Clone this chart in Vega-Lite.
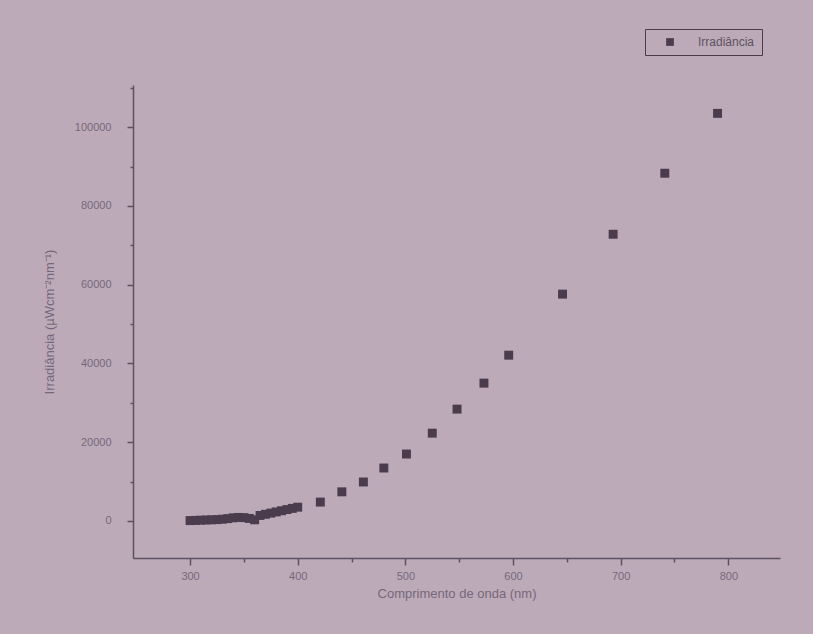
{
  "$schema": "https://vega.github.io/schema/vega-lite/v6.json",
  "autosize": "none",
  "width": 647,
  "height": 473,
  "padding": {"left": 133, "top": 85, "right": 33, "bottom": 76},
  "background": "#bcaab9",
  "config": {
    "view": {"stroke": null},
    "font": "Liberation Sans",
    "axis": {"labelColor": "#76687a", "titleColor": "#76687a", "domainColor": "#5e5262", "tickColor": "#5e5262", "grid": false, "labelFontSize": 10, "titleFontSize": 13, "titleFontWeight": "normal", "domainWidth": 1.5, "tickWidth": 1.5}
  },
  "data": {"values": [
    {"nm": 300, "irr": 100}, {"nm": 305, "irr": 150}, {"nm": 310, "irr": 200}, {"nm": 315, "irr": 250},
    {"nm": 320, "irr": 300}, {"nm": 325, "irr": 350}, {"nm": 330, "irr": 450}, {"nm": 335, "irr": 600},
    {"nm": 340, "irr": 800}, {"nm": 345, "irr": 900}, {"nm": 350, "irr": 850}, {"nm": 355, "irr": 650},
    {"nm": 360, "irr": 300}, {"nm": 365, "irr": 1400}, {"nm": 370, "irr": 1700}, {"nm": 375, "irr": 2000},
    {"nm": 380, "irr": 2300}, {"nm": 385, "irr": 2600}, {"nm": 390, "irr": 2900}, {"nm": 395, "irr": 3200},
    {"nm": 400, "irr": 3500},
    {"nm": 421, "irr": 4800}, {"nm": 441, "irr": 7400}, {"nm": 461, "irr": 9900}, {"nm": 480, "irr": 13450},
    {"nm": 501, "irr": 17000}, {"nm": 525, "irr": 22300}, {"nm": 548, "irr": 28400}, {"nm": 573, "irr": 35000},
    {"nm": 596, "irr": 42100}, {"nm": 646, "irr": 57600}, {"nm": 693, "irr": 72800}, {"nm": 741, "irr": 88300},
    {"nm": 790, "irr": 103500}
  ]},
  "layer": [
    {
      "mark": {"type": "square", "size": 80, "opacity": 1},
      "encoding": {
        "x": {"field": "nm", "type": "quantitative", "scale": {"domain": [247, 848], "nice": false, "zero": false},
              "axis": {"title": "Comprimento de onda (nm)", "orient": "bottom", "values": [300, 400, 500, 600, 700, 800], "tickSize": 7, "labelPadding": 5, "labelFontSize": 11, "titlePadding": 6}},
        "y": {"field": "irr", "type": "quantitative", "scale": {"domain": [-9400, 110700], "nice": false, "zero": false},
              "axis": {"title": "Irradiância (µWcm⁻²nm⁻¹)", "orient": "left", "values": [0, 20000, 40000, 60000, 80000, 100000], "format": "d", "tickSize": 6, "labelPadding": 16, "labelFontSize": 11, "titlePadding": 18}},
        "color": {"datum": "Irradiância", "type": "nominal", "scale": {"range": ["#4a3c4c"]},
                  "legend": {"title": null, "orient": "none", "legendX": 512, "legendY": -56, "symbolType": "square", "symbolSize": 60, "symbolOffset": 12, "labelOffset": 22,
                             "strokeColor": "#4a3c4c", "padding": 7, "labelFontSize": 12, "labelColor": "#5e5262", "symbolStrokeWidth": 0, "labelLimit": 200}}
      }
    },
    {
      "mark": {"type": "square", "size": 0, "opacity": 0},
      "encoding": {
        "x": {"field": "nm", "type": "quantitative", "scale": {"domain": [247, 848], "nice": false, "zero": false},
              "axis": {"title": null, "orient": "bottom", "labels": false, "domain": false, "values": [350, 450, 550, 650, 750, 850], "tickSize": 4}},
        "y": {"field": "irr", "type": "quantitative", "scale": {"domain": [-9400, 110700], "nice": false, "zero": false},
              "axis": {"title": null, "orient": "left", "labels": false, "domain": false, "values": [10000, 30000, 50000, 70000, 90000, 110000], "tickSize": 3}}
      }
    }
  ],
  "resolve": {"axis": {"x": "independent", "y": "independent"}}
}
